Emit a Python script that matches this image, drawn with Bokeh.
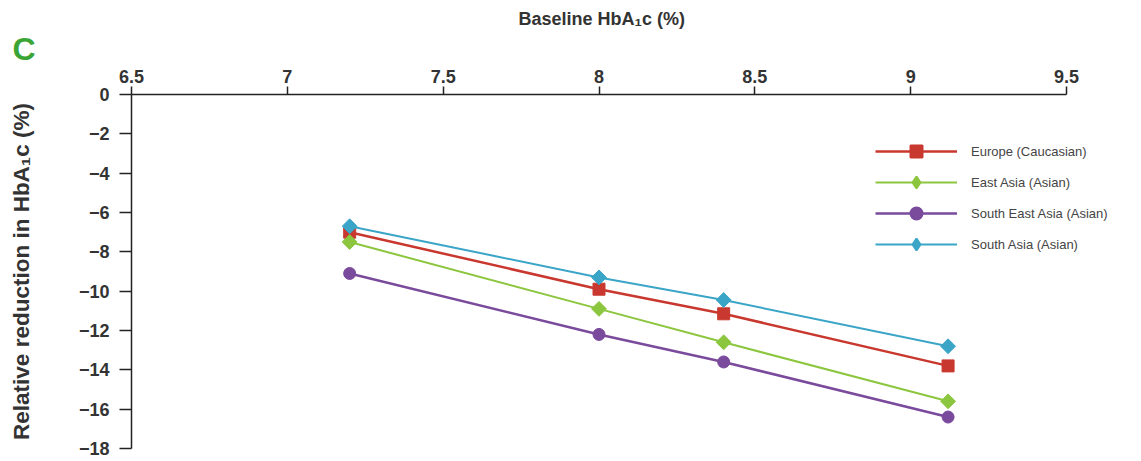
import math
from bokeh.plotting import figure
from bokeh.models import Range1d, Legend, LegendItem, FixedTicker, Title
from bokeh.embed import file_html
from bokeh.resources import INLINE

# ---- data ----
baseline = [7.2, 8.0, 8.4, 9.12]
europe = [-7.0, -9.9, -11.15, -13.8]
east_asia = [-7.5, -10.9, -12.6, -15.6]
south_east_asia = [-9.1, -12.2, -13.6, -16.4]
south_asia = [-6.7, -9.3, -10.45, -12.8]

series_names = ["Europe (Caucasian)", "East Asia (Asian)", "South East Asia (Asian)", "South Asia (Asian)"]
x_ticks = [6.5, 7, 7.5, 8, 8.5, 9, 9.5]
x_tick_labels = ["6.5", "7", "7.5", "8", "8.5", "9", "9.5"]
y_ticks = [0, -2, -4, -6, -8, -10, -12, -14, -16, -18]
y_tick_labels = ["0", "\u22122", "\u22124", "\u22126", "\u22128", "\u221210", "\u221212", "\u221214", "\u221216", "\u221218"]
x_title = "Baseline HbA\u2081c (%)"
y_title = "Relative reduction in HbA\u2081c (%)"
panel_letter = "C"

FONT = "Liberation Sans"
X_MIN, X_MAX = 6.5, 9.5
X_VIEW_MAX = X_MAX + 75 / 311.7   # extra room on the right for the legend

p = figure(width=1141, height=461, output_backend="svg", toolbar_location=None,
           x_range=Range1d(X_MIN, X_VIEW_MAX), y_range=Range1d(-18, 0),
           x_axis_location="above",
           min_border_left=131, min_border_right=0, min_border_top=94, min_border_bottom=13)
p.outline_line_color = None
p.xgrid.visible = False
p.ygrid.visible = False
p.background_fill_color = "white"
p.border_fill_color = "white"

# axes
xa = p.xaxis[0]
xa.ticker = FixedTicker(ticks=x_ticks)
xa.bounds = (X_MIN, X_MAX)
xa.major_label_overrides = {t: l for t, l in zip(x_ticks, x_tick_labels)}
ya = p.yaxis[0]
ya.ticker = FixedTicker(ticks=y_ticks)
ya.major_label_overrides = {t: l for t, l in zip(y_ticks, y_tick_labels)}
ya.axis_label = y_title

for ax in (xa, ya):
    ax.minor_tick_line_color = None
    ax.axis_line_color = "#222222"
    ax.axis_line_width = 1.5
    ax.major_tick_line_color = "#222222"
    ax.major_tick_line_width = 1.5
    ax.major_tick_in = 0
    ax.major_label_text_font = FONT
    ax.major_label_text_font_style = "bold"
    ax.major_label_text_font_size = "18px"
    ax.major_label_text_color = "#333333"
    ax.axis_label_text_font = FONT
    ax.axis_label_text_font_style = "bold"
    ax.axis_label_text_color = "#333333"

xa.major_tick_out = 8
xa.major_label_standoff = 4
ya.major_tick_out = 12
ya.major_label_standoff = 10
ya.axis_label_standoff = 42
ya.axis_label_text_font_size = "22.5px"

# titles above the top axis: panel letter, then the x axis title
t_letter = Title(text=panel_letter, align="left", offset=-119, standoff=0,
                 text_font=FONT, text_font_style="bold", text_font_size="32px",
                 text_color="#3aa535")
p.add_layout(t_letter, "above")
t_x = Title(text=x_title, align="left", offset=387, standoff=0,
            text_font=FONT, text_font_style="bold", text_font_size="18px",
            text_color="#333333")
p.add_layout(t_x, "above")

# series
colors = ["#c9382f", "#8cc63e", "#7a4a9c", "#3ba5c8"]
line_widths = [2.5, 2, 2.5, 2]
markers = ["square", "square", "circle", "square"]
angles = [0, math.pi / 4, 0, math.pi / 4]
sizes = [12, 10.5, 12, 10.5]
legend_markers = ["square", "diamond", "circle", "diamond"]
series = [europe, east_asia, south_east_asia, south_asia]

items = []
for name, ys, c, lw, m, a, s, lm in zip(series_names, series, colors, line_widths,
                                          markers, angles, sizes, legend_markers):
    r1 = p.line(baseline, ys, line_color=c, line_width=lw)
    # marker used for the legend swatch (zero size on the plot, hidden under the real marker)
    rl = p.scatter(baseline, ys, marker=lm, size=0, fill_color=c, line_color=c, line_width=2)
    r2 = p.scatter(baseline, ys, marker=m, angle=a, size=s, fill_color=c, line_color=c)
    items.append(LegendItem(label=name, renderers=[r1, rl]))

legend = Legend(items=items, location=(744, 189))
legend.border_line_color = None
legend.background_fill_alpha = 0
legend.label_text_font = FONT
legend.label_text_font_size = "13px"
legend.label_text_color = "#444444"
legend.glyph_width = 82
legend.glyph_height = 30
legend.label_height = 30
legend.spacing = 1
legend.label_standoff = 14
p.add_layout(legend)

open("out.html", "w").write(file_html(p, INLINE))
